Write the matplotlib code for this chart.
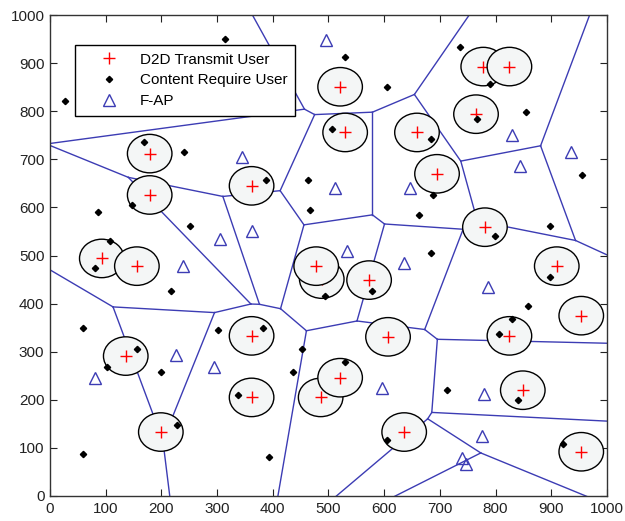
import numpy as np
import matplotlib.pyplot as plt
from matplotlib.lines import Line2D
from matplotlib.patches import Circle

#===== DATA =====
# F-AP positions (one sits under the legend box)
fap_x = [345, 363, 305, 496, 320, 511, 647, 830, 844, 935, 533,
         238, 226, 295, 80, 635, 786, 597, 780, 775, 740, 747]
fap_y = [705, 551, 534, 949, 865, 640, 640, 750, 687, 716, 510,
         478, 293, 269, 246, 485, 435, 224, 212, 125, 78, 66]

# D2D transmit users, in drawing order (later circles cover earlier ones)
d2d_x = [93, 156, 179, 179, 362, 136, 199, 362, 362, 488, 478, 573, 607, 486, 521,
         636, 521, 530, 659, 695, 778, 825, 765, 781, 910, 954, 825, 849, 954]
d2d_y = [494, 478, 712, 626, 645, 291, 133, 333, 205, 451, 478, 449, 331, 205, 246,
         133, 851, 756, 756, 670, 893, 893, 794, 559, 478, 375, 333, 220, 92]
RADIUS = 40

# content require users
cru_x = [314, 27, 169, 240, 387, 464, 147, 86, 466, 251, 108,
         530, 736, 790, 605, 854, 766, 507, 684, 955, 687, 663, 898, 799, 684,
         81, 217, 59, 302, 383, 156, 452, 102, 199, 436, 337, 228, 59, 394,
         898, 494, 578, 858, 830, 807, 529, 713, 840, 606, 921]
cru_y = [950, 822, 737, 715, 657, 657, 605, 590, 595, 562, 530,
         913, 933, 857, 851, 799, 784, 763, 742, 668, 626, 584, 562, 541, 505,
         475, 426, 349, 346, 349, 305, 305, 268, 257, 257, 210, 147, 87, 81,
         455, 416, 426, 395, 368, 336, 279, 221, 199, 117, 108]

LINE_BLUE = "#3c3cb4"


#===== VORONOI (brute force, no scipy) =====
def voronoi_edges(px, py, lo_box=-100, hi_box=1100):
    pts = np.column_stack([px, py]).astype(float)
    n = len(pts)
    edges = []
    for i in range(n):
        for j in range(i + 1, n):
            pi, pj = pts[i], pts[j]
            m = (pi + pj) / 2
            d = np.array([-(pj - pi)[1], (pj - pi)[0]])
            d /= np.linalg.norm(d)
            lo, hi = -1e9, 1e9
            # stay inside a box a bit larger than the axes
            for ax_i in range(2):
                if abs(d[ax_i]) > 1e-12:
                    t1 = (lo_box - m[ax_i]) / d[ax_i]
                    t2 = (hi_box - m[ax_i]) / d[ax_i]
                    lo, hi = max(lo, min(t1, t2)), min(hi, max(t1, t2))
            ok = True
            for k in range(n):
                if k == i or k == j:
                    continue
                pk = pts[k]
                a = 2 * np.dot(d, pk - pi)
                b = np.dot(pk, pk) - np.dot(pi, pi) - 2 * np.dot(m, pk - pi)
                if abs(a) < 1e-12:
                    if b < 0:
                        ok = False
                        break
                elif a > 0:
                    hi = min(hi, b / a)
                else:
                    lo = max(lo, b / a)
            if ok and lo < hi:
                edges.append((m + lo * d, m + hi * d))
    return edges


#===== PLOT =====
plt.rcParams['font.family'] = ['Liberation Sans', 'DejaVu Sans']
fig = plt.figure(figsize=(6.25, 5.21), dpi=100)
ax = fig.add_axes([0.08, 0.048, 0.891, 0.923])

for p0, p1 in voronoi_edges(fap_x, fap_y):
    ax.plot([p0[0], p1[0]], [p0[1], p1[1]], color=LINE_BLUE, lw=1.0, zorder=1)

z = 2
for x, y in zip(d2d_x, d2d_y):
    ax.add_patch(Circle((x, y), RADIUS, facecolor="#f4f6f6", edgecolor="black",
                        lw=1.0, zorder=z))
    ax.plot(x, y, marker="+", color="red", ms=9, mew=1.0, ls="none", zorder=z + 1)
    z += 2

ax.plot(cru_x, cru_y, marker="D", color="black", ms=3.2, ls="none", zorder=z + 1)
ax.plot(fap_x, fap_y, marker="^", mfc="none", mec=LINE_BLUE, ms=9, mew=1.0,
        ls="none", zorder=z + 1)

ax.set_xlim(0, 1000)
ax.set_ylim(0, 1000)
ax.set_xticks(np.arange(0, 1001, 100))
ax.set_yticks(np.arange(0, 1001, 100))
ax.tick_params(direction="in", top=True, right=True, length=5, labelsize=11,
               colors="#222222", pad=4)
for s in ax.spines.values():
    s.set_color("#333333")
    s.set_linewidth(1.0)

handles = [
    Line2D([], [], marker="+", color="red", ms=9, mew=1.0, ls="none"),
    Line2D([], [], marker="D", color="black", ms=3.2, ls="none"),
    Line2D([], [], marker="^", mfc="none", mec=LINE_BLUE, ms=9, mew=1.0, ls="none"),
]
leg = ax.legend(handles, ["D2D Transmit User", "Content Require User", "F-AP"],
                loc="upper left", bbox_to_anchor=(0.045, 0.938), borderaxespad=0,
                fontsize=11, handlelength=3.5, handletextpad=0.25, borderpad=0.5,
                labelspacing=0.45, fancybox=False, framealpha=1, edgecolor="black",
                numpoints=1)
leg.get_frame().set_linewidth(1.0)
leg.set_zorder(200)

plt.savefig("out.png", dpi=100)
